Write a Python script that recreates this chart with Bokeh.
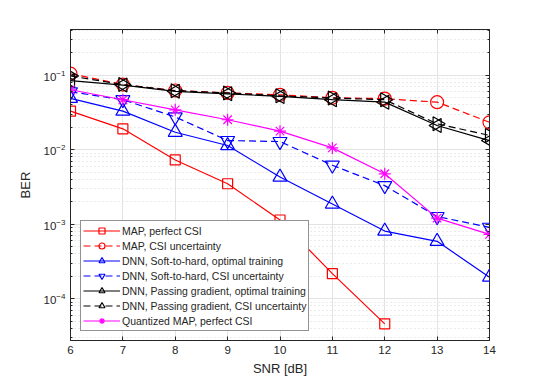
import numpy as np
from bokeh.plotting import figure
from bokeh.models import (LogAxis, LinearAxis, SingleIntervalTicker, LogTicker,
                          Legend, LegendItem, Range1d, CustomJSTickFormatter)
from bokeh.embed import file_html
from bokeh.resources import INLINE

snr = [6, 7, 8, 9, 10, 11, 12, 13, 14]
map_perfect_snr = [6, 7, 8, 9, 10, 11, 12]
map_perfect = [0.033, 0.0191, 0.0073, 0.0035, 0.00114, 2.17e-4, 4.6e-5]
map_unc = [0.105, 0.075, 0.0625, 0.058, 0.0547, 0.0499, 0.0486, 0.0436, 0.0234]
dnn_sth_opt = [0.049, 0.033, 0.0172, 0.0114, 0.0043, 0.00187, 8.1e-4, 5.9e-4, 1.95e-4]
dnn_sth_unc = [0.06, 0.047, 0.0276, 0.0133, 0.0129, 0.0062, 0.0033, 0.00127, 9.1e-4]
dnn_pg_opt = [0.085, 0.074, 0.061, 0.0564, 0.052, 0.047, 0.0436, 0.0212, 0.0133]
dnn_pg_unc = [0.098, 0.075, 0.062, 0.058, 0.053, 0.0495, 0.047, 0.0223, 0.0156]
qmap = [0.064, 0.047, 0.0344, 0.0253, 0.0178, 0.0106, 0.00476, 0.00121, 7.3e-4]

labels = ["MAP, perfect CSI", "MAP, CSI uncertainty",
          "DNN, Soft-to-hard, optimal training", "DNN, Soft-to-hard, CSI uncertainty",
          "DNN, Passing gradient, optimal training", "DNN, Passing gradient, CSI uncertainty",
          "Quantized MAP, perfect CSI"]

FONT = "Liberation Sans"
TXT = "#262626"

p = figure(width=540, height=382, y_axis_type="log", output_backend="svg",
           toolbar_location=None, x_range=Range1d(6, 14), y_range=Range1d(2.75e-5, 0.412),
           min_border_left=70, min_border_right=51, min_border_top=29, min_border_bottom=42,
           background_fill_color="white", border_fill_color="white")
p.outline_line_color = TXT
p.outline_line_width = 1

p.xaxis.ticker = SingleIntervalTicker(interval=1, num_minor_ticks=0)
p.yaxis.ticker = LogTicker(num_minor_ticks=10)
for ax in [p.xaxis[0], p.yaxis[0]]:
    ax.major_tick_in = 4
    ax.major_tick_out = 0
    ax.minor_tick_in = 2
    ax.minor_tick_out = 0
    ax.axis_line_color = TXT
    ax.major_tick_line_color = TXT
    ax.minor_tick_line_color = TXT
    ax.major_label_text_font = FONT
    ax.major_label_text_font_size = "11.5px"
    ax.major_label_text_color = TXT
    ax.axis_label_text_font = FONT
    ax.axis_label_text_font_size = "13px"
    ax.axis_label_text_font_style = "normal"
    ax.axis_label_text_color = TXT
p.xaxis.axis_label = "SNR [dB]"
p.yaxis.axis_label = "BER"
p.xaxis.major_label_standoff = 5
p.xaxis.axis_label_standoff = 4
p.yaxis.major_label_standoff = 5
p.yaxis.axis_label_standoff = 8

# box ticks on top and right (no labels)
top = LinearAxis(ticker=SingleIntervalTicker(interval=1, num_minor_ticks=0),
                 formatter=CustomJSTickFormatter(code="return ''"),
                 major_tick_in=4, major_tick_out=0,
                 major_label_standoff=0, axis_line_color=None, major_tick_line_color=TXT)
p.add_layout(top, "above")
right = LogAxis(ticker=LogTicker(num_minor_ticks=10), formatter=CustomJSTickFormatter(code="return ''"),
                major_tick_in=4, major_tick_out=0, major_label_standoff=0,
                minor_tick_in=2, minor_tick_out=0,
                axis_line_color=None, major_tick_line_color=TXT, minor_tick_line_color=TXT)
p.add_layout(right, "right")

p.xgrid.grid_line_color = "#e3e3e3"
p.ygrid.grid_line_color = "#e3e3e3"
p.ygrid.minor_grid_line_color = "#d6d6d6"
p.ygrid.minor_grid_line_dash = "1 3"

series = [
    (map_perfect_snr, map_perfect, "#ff0000", "solid", "square", 10, 0),
    (snr, map_unc, "#ff0000", "7 4", "circle", 13, 0),
    (snr, dnn_sth_opt, "#0000ff", "solid", "triangle", 14, 0),
    (snr, dnn_sth_unc, "#0000ff", "7 4", "inverted_triangle", 14, 0),
    (snr, dnn_pg_opt, "#000000", "solid", "triangle", 14, np.pi / 2),
    (snr, dnn_pg_unc, "#000000", "7 4", "triangle", 14, -np.pi / 2),
    (snr, qmap, "#ff00ff", "solid", "asterisk", 12, 0),
]

items = []
for (xs, ys, col, dash, mk, sz, ang), lab in zip(series, labels):
    l = p.line(xs, ys, line_color=col, line_width=1.2, line_dash=dash)
    s = p.scatter(xs, ys, marker=mk, size=sz, angle=ang, line_color=col,
                  fill_color=None, line_width=1.2)
    items.append(LegendItem(label=lab, renderers=[l, s]))

leg = Legend(items=items, location=(10, 9), label_text_font=FONT,
             label_text_font_size="10.5px", label_text_color=TXT,
             label_height=15, glyph_height=15, glyph_width=37, label_standoff=2,
             spacing=0, padding=2, margin=0, border_line_color=TXT,
             border_line_width=1, background_fill_color="white",
             background_fill_alpha=1)
p.add_layout(leg, "center")

open("out.html", "w").write(file_html(p, INLINE))
